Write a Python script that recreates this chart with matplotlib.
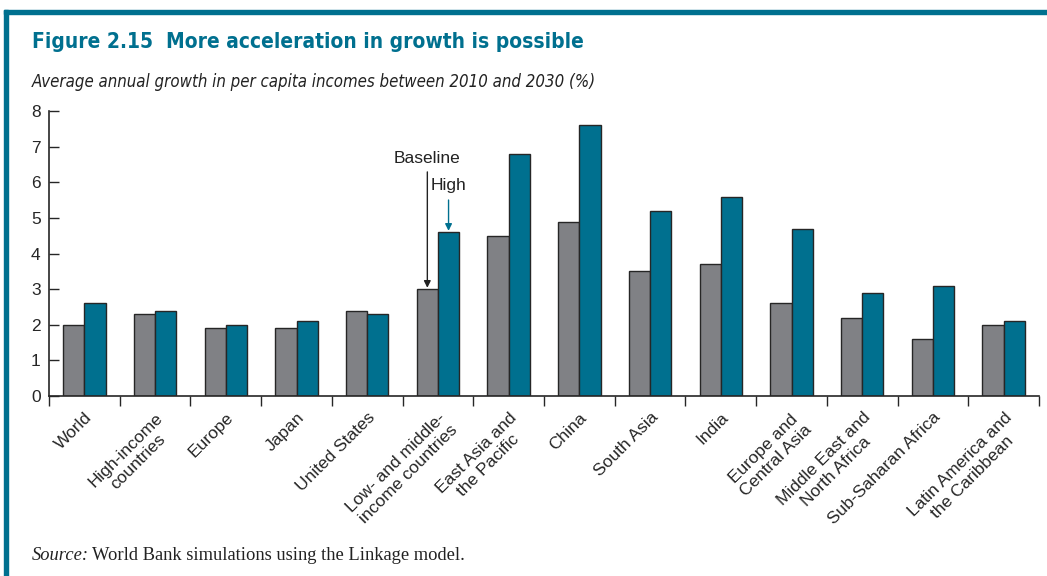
import numpy as np
import matplotlib
matplotlib.use("Agg")
import matplotlib.pyplot as plt
from matplotlib.patches import Rectangle

# data
regions = ["World", "High-income\ncountries", "Europe", "Japan", "United States",
           "Low- and middle-\nincome countries", "East Asia and\nthe Pacific", "China",
           "South Asia", "India", "Europe and\nCentral Asia", "Middle East and\nNorth Africa",
           "Sub-Saharan Africa", "Latin America and\nthe Caribbean"]
baseline = [2.0, 2.3, 1.9, 1.9, 2.4, 3.0, 4.5, 4.9, 3.5, 3.7, 2.6, 2.2, 1.6, 2.0]
high = [2.6, 2.4, 2.0, 2.1, 2.3, 4.6, 6.8, 7.6, 5.2, 5.6, 4.7, 2.9, 3.1, 2.1]
yticks = list(range(0, 9))

TEAL = "#00708f"
GRAY = "#808185"
EDGE = "#262626"

plt.rcParams['font.family'] = ['Liberation Sans', 'DejaVu Sans']

fig = plt.figure(figsize=(10.47, 5.76), dpi=100)
ax = fig.add_axes([0.0468, 0.3125, 0.9456, 0.4945])

x = np.arange(len(regions))
w = 0.30
ax.bar(x - w / 2, baseline, w, color=GRAY, edgecolor=EDGE, linewidth=1.0)
ax.bar(x + w / 2, high, w, color=TEAL, edgecolor=EDGE, linewidth=1.0)

ax.set_xlim(-0.5, len(regions) - 0.5)
ax.set_ylim(0, 8)
ax.set_yticks(yticks)
ax.tick_params(axis='y', direction='in', length=7, width=1, colors=EDGE, labelsize=12.5, pad=6)
ax.set_xticks(x)
ax.set_xticklabels(regions, rotation=45, ha='right', va='top', rotation_mode='anchor',
                   multialignment='center', fontsize=12.5)
ax.tick_params(axis='x', which='major', length=0, pad=10, colors=EDGE)
ax.set_xticks(np.arange(len(regions) + 1) - 0.5, minor=True)
ax.tick_params(axis='x', which='minor', direction='out', length=7, width=1, colors=EDGE)
for s in ['top', 'right']:
    ax.spines[s].set_visible(False)
for s in ['left', 'bottom']:
    ax.spines[s].set_color(EDGE)
    ax.spines[s].set_linewidth(1.2)

# annotations pointing at the low- and middle-income pair
i = 5
ax.annotate("Baseline", xy=(i - w / 2, baseline[i]), xytext=(i - w / 2, 6.45),
            ha='center', va='bottom', fontsize=12.5, color="#222222",
            arrowprops=dict(arrowstyle='-|>', color="#222222", lw=1, mutation_scale=10,
                            shrinkA=2, shrinkB=1))
ax.annotate("High", xy=(i + w / 2, high[i]), xytext=(i + w / 2, 5.7),
            ha='center', va='bottom', fontsize=12.5, color="#222222",
            arrowprops=dict(arrowstyle='-|>', color=TEAL, lw=1, mutation_scale=10,
                            shrinkA=3, shrinkB=1))

# teal frame
fig.patches.append(Rectangle((4 / 1047, 1 - 14 / 576), 1, 4 / 576, transform=fig.transFigure,
                             color=TEAL, zorder=0))
fig.patches.append(Rectangle((4 / 1047, 0), 4 / 1047, 1 - 10 / 576, transform=fig.transFigure,
                             color=TEAL, zorder=0))

fig.text(32 / 1047, 1 - 42 / 576, "Figure 2.15  More acceleration in growth is possible",
         family='DejaVu Sans', stretch='condensed', weight='bold', fontsize=15,
         color=TEAL, va='center', ha='left')
fig.text(32 / 1047, 1 - 82 / 576,
         "Average annual growth in per capita incomes between 2010 and 2030 (%)",
         family='DejaVu Sans', stretch='condensed', style='italic', fontsize=12.1,
         color="#222222", va='center', ha='left')
fig.text(32 / 1047, 1 - 555 / 576, "Source:", family=['Liberation Serif', 'DejaVu Serif'],
         style='italic', fontsize=13.3, color="#222222", va='center', ha='left')
fig.text(92 / 1047, 1 - 555 / 576, "World Bank simulations using the Linkage model.",
         family=['Liberation Serif', 'DejaVu Serif'], fontsize=13.3, color="#222222",
         va='center', ha='left')

fig.savefig("out.png", dpi=100)
